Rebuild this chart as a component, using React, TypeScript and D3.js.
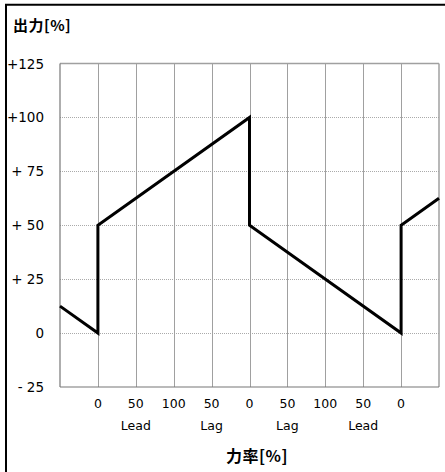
import React from "react";
import * as d3 from "d3";

const xTickIndex = [1, 2, 3, 4, 5, 6, 7, 8, 9];
const xTickLabels = ["0", "50", "100", "50", "0", "50", "100", "50", "0"];
const xSubIndex = [2, 4, 6, 8];
const xSubLabels = ["Lead", "Lag", "Lag", "Lead"];
const yTickValues = [125, 100, 75, 50, 25, 0, -25];
const yTickLabels = ["+125", "+100", "+ 75", "+ 50", "+ 25", "0", "- 25"];
const seriesX = [0, 1, 1, 5, 5, 9, 9, 10];
const seriesY = [12.5, 0, 50, 100, 50, 0, 50, 62.5];

const W = 445;
const H = 472;
const left = 60, right = 439, top = 63.5, bottom = 387;

export default function App() {
  const x = d3.scaleLinear().domain([0, 10]).range([left, right]);
  const y = d3.scaleLinear().domain([-25, 125]).range([bottom, top]);
  const pts: [number, number][] = seriesX.map((v, i) => [v, seriesY[i]]);
  const line = d3.line<[number, number]>().x(d => x(d[0])).y(d => y(d[1]));
  const gridX = d3.range(0, 11);
  const font = "DejaVu Sans, Verdana, sans-serif";
  const cjk = "'Noto Sans CJK JP', sans-serif";
  return (
    <svg width={W} height={H} style={{ position: "absolute", left: 0, top: 0, background: "#fff" }}>
      <rect x={0} y={0} width={W} height={H} fill="#fff" />
      <line x1={5} y1={4.8} x2={W} y2={4.8} stroke="#000" strokeWidth={2} />
      <line x1={6} y1={4} x2={6} y2={H} stroke="#000" strokeWidth={2} />
      <text x={13} y={31} fontFamily={cjk} fontWeight="bold" fontSize={15} letterSpacing={0.5} fill="#000">出力[%]</text>
      {yTickValues.filter(v => v !== -25 && v !== 125).map(v => (
        <line key={"h" + v} x1={left} x2={right} y1={Math.round(y(v)) + 0.5} y2={Math.round(y(v)) + 0.5}
          stroke="#aaa" strokeWidth={1} strokeDasharray="1,1" />
      ))}
      {gridX.filter(i => i !== 0 && i !== 10).map(i => (
        <line key={"v" + i} x1={Math.round(x(i)) + 0.5} x2={Math.round(x(i)) + 0.5} y1={top} y2={bottom}
          stroke="#a0a0a0" strokeWidth={1} />
      ))}
      <line x1={left} x2={right} y1={top} y2={top} stroke="#a0a0a0" strokeWidth={1.5} />
      <line x1={right} x2={right} y1={top} y2={bottom} stroke="#a0a0a0" strokeWidth={1.5} />
      <line x1={left} x2={left} y1={top} y2={bottom} stroke="#777" strokeWidth={1.2} />
      <line x1={left} x2={right} y1={bottom} y2={bottom} stroke="#777" strokeWidth={1.2} />
      <path d={line(pts) || ""} fill="none" stroke="#000" strokeWidth={3} strokeLinejoin="miter" />
      {yTickValues.map((v, i) => (
        <text key={"yl" + v} x={44} y={y(v) + 5} textAnchor="end" fontFamily={font} fontSize={13.5} fill="#000">{yTickLabels[i]}</text>
      ))}
      {xTickIndex.map((v, i) => (
        <text key={"xl" + i} x={x(v)} y={407.5} textAnchor="middle" fontFamily={font} fontSize={12.5} fill="#000">{xTickLabels[i]}</text>
      ))}
      {xSubIndex.map((v, i) => (
        <text key={"xs" + i} x={x(v)} y={429.5} textAnchor="middle" fontFamily={font} fontSize={12.5} fill="#000">{xSubLabels[i]}</text>
      ))}
      <text x={257} y={462} textAnchor="middle" fontFamily={cjk} fontWeight="bold" fontSize={16} letterSpacing={0.5} fill="#000">力率[%]</text>
    </svg>
  );
}
